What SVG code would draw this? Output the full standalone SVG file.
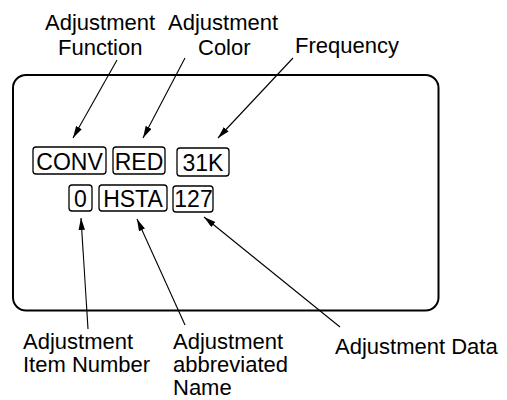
<svg xmlns="http://www.w3.org/2000/svg" width="507" height="400" viewBox="0 0 507 400">
<style>
text{font-family:"Liberation Sans",Arial,sans-serif;fill:#000}
.lbl{font-size:22px}
.bx{font-size:23px;text-anchor:middle}
.cell{fill:none;stroke:#000;stroke-width:1.3}
.conn line{stroke:#000;stroke-width:1.1}
</style>
<defs>
<marker id="ah" markerUnits="userSpaceOnUse" markerWidth="13" markerHeight="8" refX="12" refY="3.25" orient="auto">
<path d="M0,0 L12,3.25 L0,6.5 z" fill="#000"/>
</marker>
</defs>
<rect id="screen" x="13" y="75" width="425.5" height="235.5" rx="13" fill="none" stroke="#000" stroke-width="2"/>
<g id="n-conv"><rect class="cell" x="33" y="147" width="73" height="27" rx="3"/><text class="bx" x="69.5" y="170">CONV</text></g>
<g id="n-red"><rect class="cell" x="113" y="147" width="52" height="27" rx="3"/><text class="bx" x="139" y="170">RED</text></g>
<g id="n-31k"><rect class="cell" x="177" y="148" width="52" height="28" rx="3"/><text class="bx" x="203" y="171">31K</text></g>
<g id="n-0"><rect class="cell" x="69" y="185" width="23" height="26" rx="3"/><text class="bx" x="80.5" y="207">0</text></g>
<g id="n-hsta"><rect class="cell" x="99" y="185" width="68" height="26" rx="3"/><text class="bx" x="133" y="207">HSTA</text></g>
<g id="n-127"><rect class="cell" x="173" y="186" width="40" height="26" rx="3"/><text class="bx" x="193.5" y="207">127</text></g>
<g id="l-func"><text class="lbl" x="45" y="30">Adjustment</text><text class="lbl" x="58" y="55">Function</text></g>
<g id="l-color"><text class="lbl" x="168" y="30">Adjustment</text><text class="lbl" x="198" y="55">Color</text></g>
<g id="l-freq"><text class="lbl" x="295" y="53">Frequency</text></g>
<g id="l-item"><text class="lbl" x="23" y="349">Adjustment</text><text class="lbl" x="23" y="372">Item Number</text></g>
<g id="l-name"><text class="lbl" x="173" y="349">Adjustment</text><text class="lbl" x="173" y="372">abbreviated</text><text class="lbl" x="173" y="395">Name</text></g>
<g id="l-data"><text class="lbl" x="335" y="354">Adjustment Data</text></g>
<g id="connectors" class="conn">
<line x1="117" y1="60" x2="73" y2="138" marker-end="url(#ah)"/>
<line x1="185" y1="58" x2="143" y2="138" marker-end="url(#ah)"/>
<line x1="293" y1="58" x2="218" y2="138" marker-end="url(#ah)"/>
<line x1="88" y1="329" x2="81" y2="218" marker-end="url(#ah)"/>
<line x1="185" y1="325" x2="137" y2="219" marker-end="url(#ah)"/>
<line x1="340" y1="327" x2="204" y2="217" marker-end="url(#ah)"/>
</g>
</svg>
